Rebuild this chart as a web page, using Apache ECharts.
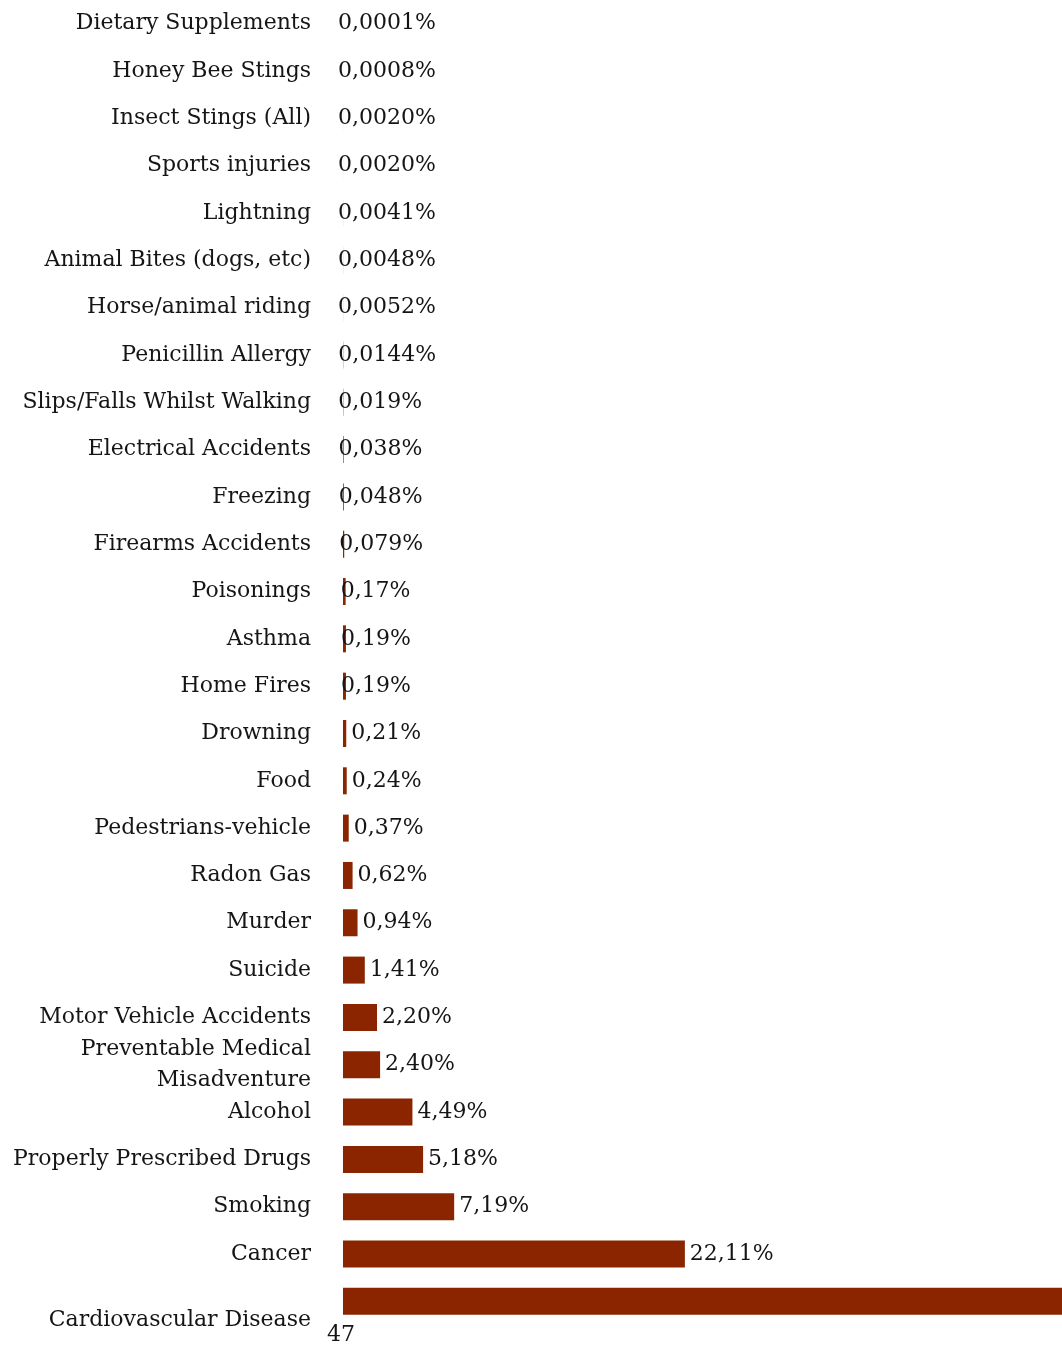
<!DOCTYPE html>
<html>
<head>
<meta charset="utf-8">
<script src="https://cdn.jsdelivr.net/npm/echarts@6/dist/echarts.min.js"></script>
<style>
  html, body { margin: 0; padding: 0; background: #fff; }
  #chart { width: 1062px; height: 1347px; }
</style>
</head>
<body>
<div id="chart"></div>
<script>
// categories top to bottom
const categories = [
  'Dietary Supplements', 'Honey Bee Stings', 'Insect Stings (All)', 'Sports injuries',
  'Lightning', 'Animal Bites (dogs, etc)', 'Horse/animal riding', 'Penicillin Allergy',
  'Slips/Falls Whilst Walking', 'Electrical Accidents', 'Freezing', 'Firearms Accidents',
  'Poisonings', 'Asthma', 'Home Fires', 'Drowning', 'Food', 'Pedestrians-vehicle',
  'Radon Gas', 'Murder', 'Suicide', 'Motor Vehicle Accidents',
  'Preventable Medical\nMisadventure', 'Alcohol', 'Properly Prescribed Drugs',
  'Smoking', 'Cancer', 'Cardiovascular Disease'
];
// percent of deaths
const values = [
  0.0001, 0.0008, 0.002, 0.002, 0.0041, 0.0048, 0.0052, 0.0144,
  0.019, 0.038, 0.048, 0.079, 0.17, 0.19, 0.19, 0.21, 0.24, 0.37,
  0.62, 0.94, 1.41, 2.2, 2.4, 4.49, 5.18, 7.19, 22.11, 47
];
// labels as printed on the chart
const valueLabels = [
  '0,0001%', '0,0008%', '0,0020%', '0,0020%', '0,0041%', '0,0048%', '0,0052%', '0,0144%',
  '0,019%', '0,038%', '0,048%', '0,079%', '0,17%', '0,19%', '0,19%', '0,21%', '0,24%', '0,37%',
  '0,62%', '0,94%', '1,41%', '2,20%', '2,40%', '4,49%', '5,18%', '7,19%', '22,11%', '47'
];

const font = 'DejaVu Serif';
const chart = echarts.init(document.getElementById('chart'));

const seriesData = values.map((v, i) => {
  const item = { value: v, label: { formatter: valueLabels[i] } };
  if (i < 15) item.label.offset = [-10, 0];
  if (i === values.length - 1) item.label.position = [-16, 36];
  return item;
});

chart.setOption({
  animation: false,
  grid: { left: 343, right: 0, top: -4, height: 1329 },
  xAxis: {
    type: 'value',
    min: 0,
    max: 46.5,
    show: false
  },
  yAxis: {
    type: 'category',
    inverse: true,
    data: categories,
    axisLine: { show: false },
    axisTick: { show: false },
    axisLabel: {
      margin: 32,
      showMinLabel: true,
      showMaxLabel: true,
      hideOverlap: false,
      fontFamily: font,
      fontSize: 22,
      color: '#151515',
      lineHeight: 31,
      formatter: (v, i) => i === categories.length - 1 ? '{low|' + v + '}' : v,
      rich: {
        low: { fontFamily: font, fontSize: 22, color: '#151515', padding: [38, 0, 0, 0] }
      }
    }
  },
  series: [{
    type: 'bar',
    data: seriesData,
    barWidth: 27,
    itemStyle: { color: '#8a2500' },
    label: {
      show: true,
      position: 'right',
      distance: 5,
      fontFamily: font,
      fontSize: 22,
      color: '#151515'
    }
  }]
});
</script>
</body>
</html>
